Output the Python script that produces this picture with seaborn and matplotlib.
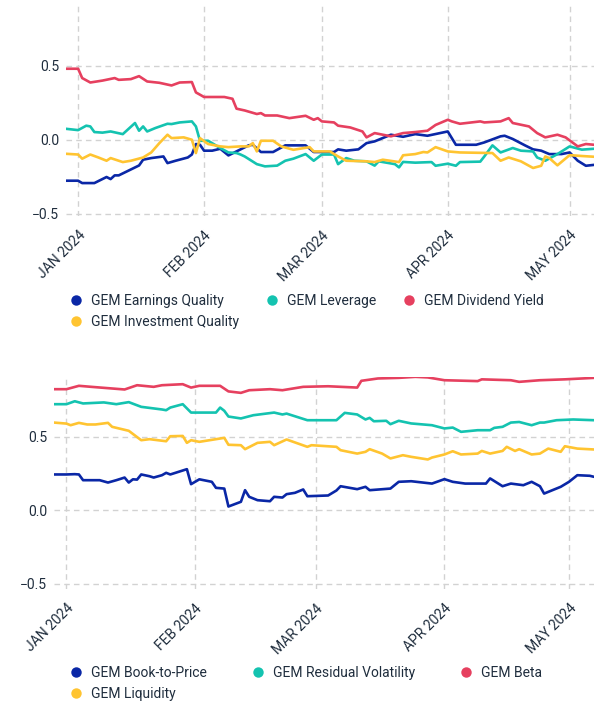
import pandas as pd
import numpy as np
import matplotlib
matplotlib.use("Agg")
import matplotlib.pyplot as plt
import matplotlib.dates as mdates
from matplotlib.ticker import FuncFormatter
from matplotlib.lines import Line2D
import seaborn as sns

# day offsets counted from 29 Dec 2023
start = pd.Timestamp("2023-12-29")

# --- top panel ---
eq_days = [0, 3, 4, 7, 10, 11, 12, 13, 18, 19, 21, 24, 25, 27, 30, 31, 32, 33, 34, 36, 38, 40, 43, 45, 46,
           48, 51, 54, 59, 61, 66, 67, 69, 72, 74, 76, 80, 83, 86, 89, 94, 95, 96, 101, 103, 107, 108, 110,
           113, 115, 117, 119, 122, 124, 126, 128, 130]
eq_vals = [-0.277, -0.277, -0.293, -0.293, -0.252, -0.266, -0.241, -0.241, -0.174, -0.135, -0.124, -0.113,
           -0.158, -0.142, -0.12, -0.10, -0.029, -0.034, -0.074, -0.074, -0.061, -0.106, -0.065, -0.038,
           -0.034, -0.083, -0.083, -0.038, -0.038, -0.083, -0.083, -0.065, -0.074, -0.065, -0.023, -0.011,
           0.034, 0.02, 0.038, 0.027, 0.056, 0.011, -0.034, -0.034, -0.018, 0.023, 0.027, 0.005, -0.038,
           -0.065, -0.074, -0.097, -0.097, -0.086, -0.142, -0.176, -0.17]

lev_days = [0, 3, 5, 6, 7, 9, 11, 14, 17, 18, 19, 20, 22, 25, 26, 28, 31, 32, 33, 35, 38, 40, 42, 43, 44,
            47, 49, 52, 54, 56, 59, 61, 63, 66, 67, 69, 71, 74, 76, 77, 81, 82, 83, 86, 90, 91, 94, 96, 97,
            102, 103, 105, 107, 110, 112, 115, 116, 118, 121, 124, 127, 130]
lev_vals = [0.074, 0.065, 0.095, 0.09, 0.052, 0.048, 0.056, 0.038, 0.113, 0.061, 0.09, 0.056, 0.079, 0.108,
            0.106, 0.117, 0.124, 0.09, -0.007, -0.007, -0.056, -0.086, -0.09, -0.10, -0.113, -0.165, -0.18,
            -0.175, -0.142, -0.128, -0.097, -0.142, -0.10, -0.10, -0.165, -0.124, -0.142, -0.146, -0.175,
            -0.146, -0.165, -0.187, -0.15, -0.155, -0.151, -0.176, -0.162, -0.176, -0.151, -0.148, -0.113,
            -0.038, -0.086, -0.056, -0.074, -0.079, -0.12, -0.142, -0.097, -0.045, -0.067, -0.061]

dy_days = [0, 3, 4, 6, 9, 12, 13, 16, 18, 20, 23, 26, 28, 31, 32, 34, 39, 41, 42, 44, 47, 48, 49, 52, 55,
           59, 61, 62, 63, 66, 67, 70, 73, 74, 76, 80, 83, 86, 89, 91, 94, 95, 97, 102, 103, 107, 109, 110,
           114, 116, 118, 121, 123, 126, 128, 130]
dy_vals = [0.48, 0.48, 0.417, 0.387, 0.40, 0.417, 0.405, 0.41, 0.43, 0.394, 0.385, 0.367, 0.387, 0.39, 0.32,
           0.289, 0.289, 0.277, 0.21, 0.198, 0.174, 0.18, 0.164, 0.164, 0.146, 0.162, 0.135, 0.146, 0.124,
           0.117, 0.095, 0.083, 0.056, 0.016, 0.045, 0.023, 0.045, 0.052, 0.061, 0.10, 0.135, 0.124, 0.108,
           0.124, 0.117, 0.124, 0.146, 0.113, 0.09, 0.045, 0.016, 0.034, 0.016, -0.045, -0.029, -0.034]

iq_days = [0, 3, 4, 6, 8, 10, 11, 14, 16, 19, 21, 23, 25, 26, 29, 31, 32, 33, 35, 38, 40, 43, 45, 46, 47,
           48, 51, 53, 56, 60, 61, 65, 67, 69, 74, 76, 78, 82, 83, 86, 88, 89, 91, 94, 97, 105, 107, 109,
           112, 115, 117, 118, 119, 121, 124, 127, 130]
iq_vals = [-0.095, -0.10, -0.128, -0.10, -0.12, -0.142, -0.124, -0.151, -0.142, -0.12, -0.086, -0.023,
           0.034, 0.011, 0.016, 0.0, -0.09, 0.011, -0.029, -0.045, -0.05, -0.045, -0.045, -0.023, -0.079,
           -0.007, -0.007, -0.045, -0.068, -0.05, -0.079, -0.079, -0.113, -0.142, -0.146, -0.151, -0.135,
           -0.151, -0.105, -0.097, -0.083, -0.086, -0.05, -0.079, -0.086, -0.09, -0.142, -0.12, -0.146,
           -0.191, -0.176, -0.113, -0.124, -0.173, -0.104, -0.11, -0.115]

# --- bottom panel ---
btp_days = [0, 3, 5, 6, 7, 11, 13, 15, 17, 18, 19, 20, 21, 23, 24, 26, 27, 28, 32, 33, 35, 38, 39, 41, 42,
            45, 46, 47, 49, 52, 53, 55, 56, 58, 60, 61, 66, 68, 69, 73, 75, 76, 81, 83, 86, 91, 94, 96, 99,
            104, 105, 108, 110, 113, 115, 117, 118, 122, 124, 126, 129, 130]
btp_vals = [0.243, 0.243, 0.245, 0.243, 0.204, 0.204, 0.188, 0.204, 0.222, 0.188, 0.21, 0.208, 0.243, 0.231,
            0.222, 0.238, 0.254, 0.243, 0.279, 0.177, 0.21, 0.193, 0.152, 0.147, 0.025, 0.057, 0.136, 0.091,
            0.068, 0.061, 0.091, 0.086, 0.109, 0.118, 0.141, 0.095, 0.1, 0.134, 0.163, 0.143, 0.159, 0.136,
            0.147, 0.193, 0.197, 0.181, 0.211, 0.193, 0.181, 0.181, 0.216, 0.163, 0.181, 0.17, 0.193, 0.163,
            0.113, 0.159, 0.193, 0.238, 0.234, 0.227]

rv_days = [0, 3, 5, 7, 12, 15, 18, 21, 26, 27, 28, 31, 33, 39, 40, 41, 42, 45, 48, 53, 55, 56, 61, 68, 70,
           73, 75, 76, 77, 80, 81, 83, 86, 91, 94, 96, 98, 102, 105, 106, 108, 110, 112, 115, 117, 118, 121,
           125, 130]
rv_vals = [0.721, 0.721, 0.741, 0.726, 0.733, 0.721, 0.735, 0.703, 0.685, 0.68, 0.698, 0.721, 0.664, 0.664,
           0.698, 0.676, 0.637, 0.624, 0.646, 0.664, 0.651, 0.657, 0.612, 0.612, 0.662, 0.651, 0.617, 0.628,
           0.605, 0.608, 0.585, 0.608, 0.59, 0.578, 0.556, 0.562, 0.533, 0.544, 0.544, 0.56, 0.567, 0.596,
           0.6, 0.578, 0.596, 0.596, 0.612, 0.617, 0.612]

beta_days = [0, 3, 6, 9, 17, 20, 24, 26, 31, 33, 35, 40, 42, 45, 47, 52, 55, 60, 66, 73, 74, 78, 83, 87, 90,
             94, 102, 103, 110, 112, 117, 123, 130]
beta_vals = [0.823, 0.823, 0.846, 0.839, 0.821, 0.85, 0.839, 0.85, 0.857, 0.834, 0.846, 0.846, 0.808, 0.798,
             0.816, 0.823, 0.816, 0.839, 0.843, 0.834, 0.88, 0.896, 0.9, 0.907, 0.903, 0.884, 0.878, 0.89,
             0.884, 0.873, 0.884, 0.89, 0.9]

liq_days = [0, 3, 4, 6, 8, 10, 13, 14, 18, 21, 23, 27, 28, 31, 32, 33, 35, 39, 41, 42, 45, 46, 49, 52, 53,
            56, 59, 61, 62, 68, 69, 73, 75, 76, 79, 81, 84, 86, 90, 91, 94, 96, 98, 102, 103, 105, 108, 109,
            111, 112, 115, 117, 119, 122, 123, 126, 130]
liq_vals = [0.596, 0.589, 0.578, 0.594, 0.583, 0.583, 0.594, 0.567, 0.54, 0.476, 0.483, 0.469, 0.503, 0.505,
            0.458, 0.476, 0.465, 0.483, 0.492, 0.445, 0.442, 0.415, 0.458, 0.465, 0.442, 0.481, 0.451, 0.431,
            0.442, 0.431, 0.408, 0.385, 0.397, 0.415, 0.385, 0.352, 0.374, 0.363, 0.345, 0.358, 0.379, 0.401,
            0.379, 0.385, 0.403, 0.385, 0.403, 0.431, 0.403, 0.415, 0.379, 0.385, 0.419, 0.397, 0.435, 0.419,
            0.413]

blue, teal, red, yellow = "#0a27a6", "#14c3b0", "#e6405f", "#ffc431"
dark = "#1f2d3d"

top_series = [("GEM Earnings Quality", eq_days, eq_vals, blue),
              ("GEM Investment Quality", iq_days, iq_vals, yellow),
              ("GEM Leverage", lev_days, lev_vals, teal),
              ("GEM Dividend Yield", dy_days, dy_vals, red)]
bottom_series = [("GEM Book-to-Price", btp_days, btp_vals, blue),
                 ("GEM Liquidity", liq_days, liq_vals, yellow),
                 ("GEM Residual Volatility", rv_days, rv_vals, teal),
                 ("GEM Beta", beta_days, beta_vals, red)]


def to_frame(series):
    parts = []
    for name, days, vals, _ in series:
        parts.append(pd.DataFrame({"date": start + pd.to_timedelta(days, unit="D"),
                                   "value": vals, "factor": name}))
    return pd.concat(parts, ignore_index=True)


sns.set_theme(style="white")
plt.rcParams["font.family"] = ["Roboto", "DejaVu Sans"]

fig = plt.figure(figsize=(5.94, 7.01), dpi=100)
ax1 = fig.add_axes([0.111, 0.692, 0.889, 0.2996])
ax2 = fig.add_axes([0.0909, 0.160, 0.909, 0.302])


def draw(ax, series, ylo):
    df = to_frame(series)
    # draw in the original stacking order: blue, teal, red, yellow on top
    order = [series[0], series[2], series[3], series[1]]
    for name, _, _, color in order:
        sns.lineplot(data=df[df["factor"] == name], x="date", y="value", color=color,
                     linewidth=1.9, ax=ax, legend=False)
    ax.set_xlim(start, start + pd.Timedelta(days=130))
    ax.set_ylim(ylo, 0.905)
    ax.set_yticks([-0.5, 0.0, 0.5])
    ax.xaxis.set_major_locator(mdates.MonthLocator())
    ax.xaxis.set_major_formatter(FuncFormatter(
        lambda x, p: mdates.num2date(x).strftime("%b %Y").upper()))
    ax.set_axisbelow(True)
    ax.grid(True, color="#d2d2d2", linestyle=(0, (4, 3)), linewidth=1)
    for s in ax.spines.values():
        s.set_visible(False)
    ax.tick_params(axis="x", length=7, width=1.5, color=dark, pad=2,
                   labelsize=10, labelcolor=dark, labelrotation=45)
    ax.tick_params(axis="y", length=0, pad=5, labelsize=10, labelcolor=dark)
    plt.setp(ax.get_xticklabels(), ha="right", rotation_mode="anchor")
    ax.set_xlabel("")
    ax.set_ylabel("")


def add_legend(series, top, colspace):
    handles = [Line2D([], [], marker="o", linestyle="", markersize=7.5,
                      markeredgewidth=0, color=c) for _, _, _, c in series]
    labels = [name for name, _, _, _ in series]
    fig.legend(handles, labels, loc="upper left", bbox_to_anchor=(0.116, top), ncol=3,
               frameon=False, fontsize=10, labelcolor=dark, handlelength=1,
               handletextpad=0.58, columnspacing=colspace, labelspacing=0.5,
               borderaxespad=0, borderpad=0)


draw(ax1, top_series, -0.515)
draw(ax2, bottom_series, -0.535)
add_legend(top_series, 0.581, 1.85)
add_legend(bottom_series, 0.050, 3.18)

fig.savefig("out.png", dpi=100)
